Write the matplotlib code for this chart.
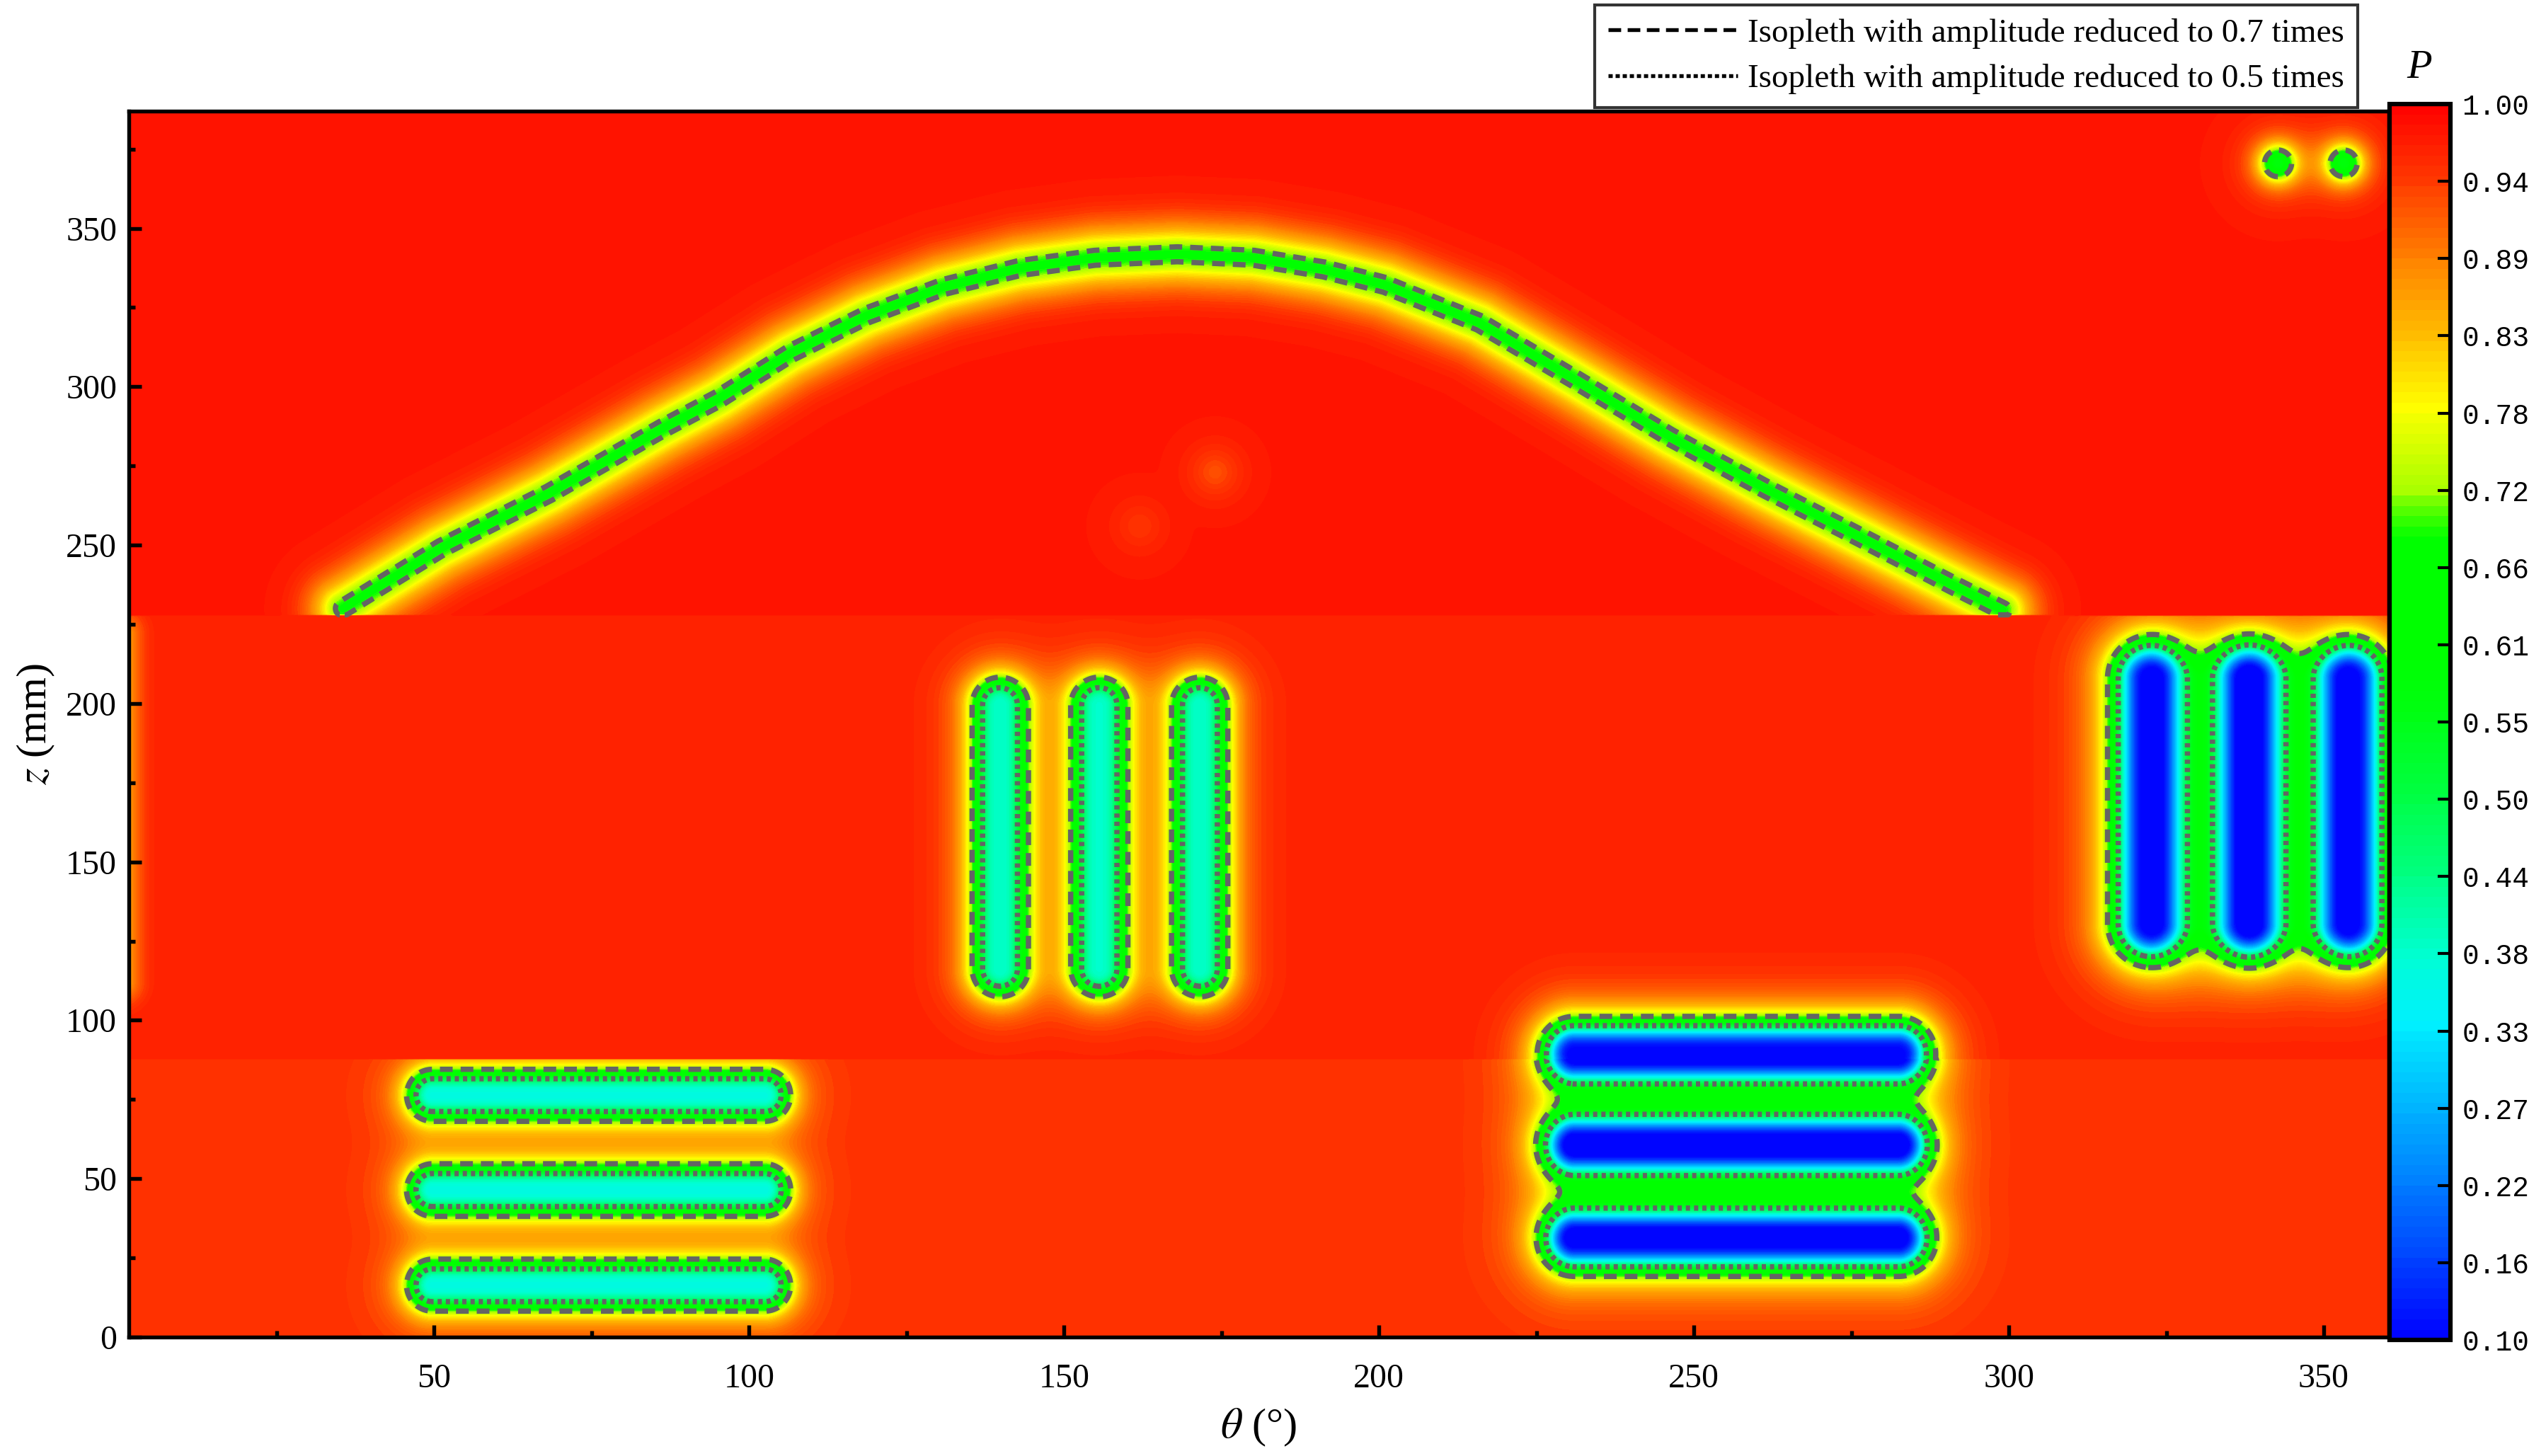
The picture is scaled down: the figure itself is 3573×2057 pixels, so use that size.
import numpy as np
import matplotlib.pyplot as plt
from matplotlib.colors import LinearSegmentedColormap
from matplotlib.lines import Line2D
from matplotlib.ticker import MultipleLocator

plt.rcParams['font.family'] = ['Liberation Serif', 'DejaVu Serif']
plt.rcParams['mathtext.fontset'] = 'stix'

# Background P of the three scan bands (z in mm)
band_edges = [0, 88, 228, 388]
band_level = [0.950, 0.968, 0.978]

# Arched crack, centre line
arch_theta = [35.5, 51.1, 68.2, 86.2, 95.3, 106.5, 118.6, 130.7, 142.8, 154.9, 168.0,
              180.1, 191.3, 201.0, 216.0, 231.1, 246.2, 261.2, 276.3, 291.3, 299.0]
arch_z = [230.0, 249.1, 266.3, 286.8, 296.4, 310.5, 322.4, 331.4, 337.4, 340.7, 341.8,
          340.7, 337.0, 332.1, 320.1, 302.3, 284.2, 268.0, 252.6, 237.2, 229.5]
arch_depth = 0.30
arch_width = 7.5

# Horizontal grooves, lower left
left_bars_z = [76.4, 46.4, 16.3]
left_bars_theta = [49.7, 102.5]
left_depth = 0.58
left_width = 7.5

# Vertical grooves, middle
mid_bars_theta = [139.8, 155.6, 171.6]
mid_bars_z = [116.2, 199.5]
mid_depth = 0.58
mid_width = 8.4

# Horizontal deep grooves, lower right
low_bars_z = [89.6, 60.6, 31.1]
low_bars_theta = [231.0, 282.5]
low_depth = 0.86
low_width = 9.2

# Vertical deep grooves, right
right_bars_theta = [322.5, 338.2, 354.1]
right_bars_z = [130.4, 208.0]
right_depth = 0.87
right_width = 10.7

# Two small holes, top right
holes_theta = [342.7, 353.2]
holes_z = [370.5, 370.5]
holes_depth = 0.40
holes_width = 5.6

# Faint spots and edge strip
spots_theta = [174.0, 162.0]
spots_z = [273.0, 256.0]
spots_depth = [0.05, 0.03]
edge_z = [112.0, 222.0]
edge_depth = 0.15

cbar_ticks = np.linspace(0.10, 1.00, 17)
cbar_labels = ['0.10', '0.16', '0.22', '0.27', '0.33', '0.38', '0.44', '0.50', '0.55',
               '0.61', '0.66', '0.72', '0.78', '0.83', '0.89', '0.94', '1.00']

# colour map as in the reference colour bar
cmap_vals = [0.10, 0.16, 0.22, 0.27, 0.33, 0.38, 0.44, 0.50, 0.56, 0.60,
             0.685, 0.70, 0.72, 0.78, 0.83, 0.89, 0.94, 1.00]
cmap_cols = ['#0000ff', '#0045ff', '#0085ff', '#00b5ff', '#00f0ff', '#00ffd2',
             '#00ff80', '#00ff40', '#00ff10', '#00ff00', '#00ff00', '#40ff00',
             '#a8ff00', '#ffff00', '#ffc000', '#ff8000', '#ff4000', '#ff0000']
cmap = LinearSegmentedColormap.from_list(
    'p_map', [((v - 0.1) / 0.9, c) for v, c in zip(cmap_vals, cmap_cols)])

# grid (distance measured with theta scaled to look like mm on screen)
deg_to_mm = 1.99
theta = np.arange(0.0, 362.0, 0.25)
z = np.arange(0.0, 388.5, 0.4)
T, Z = np.meshgrid(theta, z)
X = T * deg_to_mm


def seg_dist(t0, z0, t1, z1):
    x0, x1 = t0 * deg_to_mm, t1 * deg_to_mm
    dx, dz = x1 - x0, z1 - z0
    L2 = dx * dx + dz * dz
    if L2 == 0:
        u = np.zeros_like(X)
    else:
        u = np.clip(((X - x0) * dx + (Z - z0) * dz) / L2, 0, 1)
    return np.hypot(X - (x0 + u * dx), Z - (z0 + u * dz))


def drop(d, depth, width, p=3.3, reach=3.5):
    return depth / (1 + (d / width) ** p) * np.exp(-(d / (reach * width)) ** 4)


def band(lo, hi):
    return ((Z >= lo) & (Z < hi)).astype(float)


P = np.zeros_like(X)
for i in range(3):
    P += band(band_edges[i], band_edges[i + 1]) * band_level[i]

loss = np.zeros_like(X)

d_arch = np.full_like(X, np.inf)
for i in range(len(arch_theta) - 1):
    d_arch = np.minimum(d_arch, seg_dist(arch_theta[i], arch_z[i], arch_theta[i + 1], arch_z[i + 1]))
loss += drop(d_arch, arch_depth, arch_width, p=2.2, reach=2.4) * band(band_edges[2], band_edges[3])

for zc in left_bars_z:
    d = seg_dist(left_bars_theta[0], zc, left_bars_theta[1], zc)
    loss += drop(d, left_depth, left_width) * band(band_edges[0], band_edges[1])

for tc in mid_bars_theta:
    d = seg_dist(tc, mid_bars_z[0], tc, mid_bars_z[1])
    loss += drop(d, mid_depth, mid_width) * band(band_edges[1], band_edges[2])

for zc in low_bars_z:
    d = seg_dist(low_bars_theta[0], zc, low_bars_theta[1], zc)
    loss += drop(d, low_depth, low_width)

for tc in right_bars_theta:
    d = seg_dist(tc, right_bars_z[0], tc, right_bars_z[1])
    loss += drop(d, right_depth, right_width) * band(band_edges[1], band_edges[2])

for tc, zc in zip(holes_theta, holes_z):
    loss += drop(seg_dist(tc, zc, tc, zc), holes_depth, holes_width, p=2.8)

for tc, zc, dp in zip(spots_theta, spots_z, spots_depth):
    loss += drop(seg_dist(tc, zc, tc, zc), dp, 7.0, p=2.0, reach=2.0)

loss += drop(seg_dist(0.0, edge_z[0], 0.0, edge_z[1]), edge_depth, 5.0, p=2.0, reach=2.0) \
    * band(band_edges[1], band_edges[2])

P = np.clip(P - loss, 0.1, 1.0)

# figure
fig = plt.figure(figsize=(3573 / 300, 2057 / 300), dpi=300)
ax = fig.add_axes([0.0509, 0.0817, 0.8936, 0.842])

cf = ax.contourf(T, Z, P, levels=np.linspace(0.1, 1.0, 121), cmap=cmap)
iso = ax.contour(T, Z, P, levels=[0.5, 0.7], colors='#646464', linewidths=1.8,
                 linestyles=[(0, (0.8, 0.75)), (0, (2.4, 1.5))])

ax.set_xlim(1.5, 360.3)
ax.set_ylim(0, 387)
ax.xaxis.set_major_locator(MultipleLocator(50))
ax.xaxis.set_minor_locator(MultipleLocator(25))
ax.yaxis.set_major_locator(MultipleLocator(50))
ax.yaxis.set_minor_locator(MultipleLocator(25))
ax.tick_params(which='both', direction='in', width=1.3, labelsize=11.5)
ax.tick_params(which='major', length=4.2)
ax.tick_params(which='minor', length=2.2)
ax.tick_params(axis='x', pad=9)
ax.tick_params(axis='y', pad=4)
for s in ax.spines.values():
    s.set_linewidth(1.3)

ax.set_xlabel(r'$\theta$ (°)', fontsize=14.5)
ax.set_ylabel(r'$z$ (mm)', fontsize=14.5)
ax.xaxis.set_label_coords(0.5, -0.057)
ax.yaxis.set_label_coords(-0.032, 0.5)

# colour bar
cax = fig.add_axes([0.9448, 0.0797, 0.0241, 0.8488])
cb = fig.colorbar(cf, cax=cax, ticks=cbar_ticks)
cb.ax.set_yticklabels(cbar_labels, family='Liberation Mono', fontsize=9.5)
cb.ax.tick_params(direction='in', length=4.3, width=1.0, pad=4)
cb.outline.set_linewidth(1.5)
fig.text(0.9566, 0.9533, 'P', style='italic', fontsize=14, ha='center', va='center')

# legend
handles = [Line2D([], [], color='black', lw=1.3, ls=(0, (3.3, 1.7))),
           Line2D([], [], color='black', lw=1.3, ls=(0, (1.1, 0.75)))]
labels = ['Isopleth with amplitude reduced to 0.7 times',
          'Isopleth with amplitude reduced to 0.5 times']
leg = fig.legend(handles, labels, loc='upper right', bbox_to_anchor=(3331 / 3573, 1 - 7 / 2057),
                 fontsize=11.3, frameon=True, fancybox=False, edgecolor='black',
                 handlelength=3.9, handletextpad=0.3, labelspacing=0.45, borderpad=0.4,
                 borderaxespad=0)
leg.get_frame().set_linewidth(1.0)

fig.savefig('out.png', dpi=300)
